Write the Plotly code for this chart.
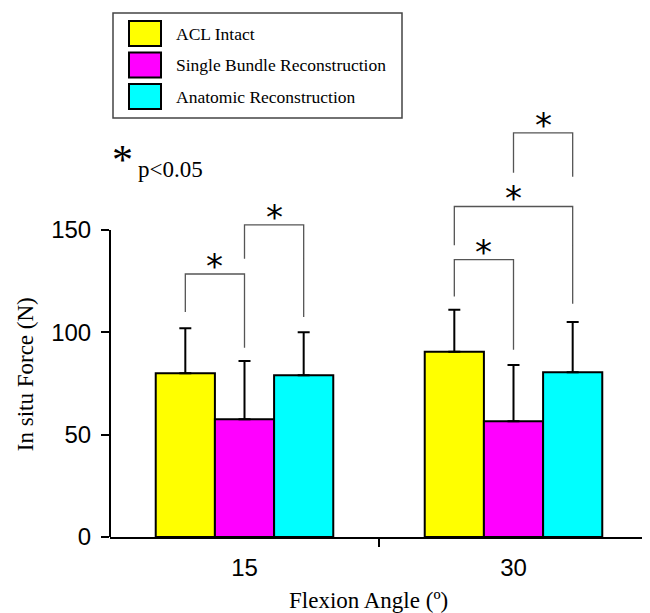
import plotly.graph_objects as go

# ---------------- data ----------------
angles = ["15", "30"]
series = ["ACL Intact", "Single Bundle Reconstruction", "Anatomic Reconstruction"]
means = [[80, 90.5], [57.5, 56.5], [79, 80.5]]
sds = [[22, 20.5], [28.5, 27.5], [21, 24.5]]
y_ticks = [0, 50, 100, 150]
y_title = "In situ Force (N)"
x_title = "Flexion Angle (º)"
sig_note = "p<0.05"
# significance brackets: angle index, series a, series b, left foot, top, right foot (N)
br_angle = [0, 0, 1, 1, 1]
br_a = [0, 1, 0, 0, 1]
br_b = [1, 2, 1, 2, 2]
br_left = [110, 136, 117.5, 142.5, 178]
br_top = [128.5, 152.5, 135.5, 161.5, 197.5]
br_right = [92.5, 107.5, 91.5, 114, 176]

# ---------------- style ----------------
colors = ["#ffff00", "#ff00ff", "#00ffff"]
OFF = 8                      # page body margin
W, H = 650 - OFF, 613 - OFF
L, R, T, B = 110 - OFF, 2, 97 - OFF, 75.5
BARGAP = 0.34
YMAX = 215
bar_w = (1 - BARGAP) / len(series)
xpos = list(range(len(angles)))

def px_x(p):
    return (p - OFF - L) / (W - L - R)

def px_y(p):
    return (H - B - (p - OFF)) / (H - T - B)

fig = go.Figure()
for k, name in enumerate(series):
    fig.add_trace(go.Bar(
        x=xpos, y=means[k], name=name,
        marker=dict(color=colors[k], line=dict(color="black", width=2)),
        error_y=dict(type="data", symmetric=False, array=sds[k],
                     arrayminus=[0] * len(angles), color="black",
                     thickness=2, width=6),
        showlegend=False,
    ))

shapes = []
annotations = []

# y axis line (only up to 150)
shapes.append(dict(type="line", xref="x domain", yref="y", x0=0, x1=0,
                   y0=y_ticks[0], y1=y_ticks[-1],
                   line=dict(color="black", width=2)))

# brackets
def bar_pos(ai, si):
    return xpos[ai] + (si - (len(series) - 1) / 2) * bar_w

for i in range(len(br_angle)):
    xa = bar_pos(br_angle[i], br_a[i])
    xb = bar_pos(br_angle[i], br_b[i])
    path = (f"M {xa},{br_left[i]} L {xa},{br_top[i]} "
            f"L {xb},{br_top[i]} L {xb},{br_right[i]}")
    shapes.append(dict(type="path", xref="x", yref="y", path=path,
                       line=dict(color="#555555", width=1.3)))
    annotations.append(dict(x=(xa + xb) / 2, y=br_top[i] + 4, xref="x", yref="y",
                            text="*", showarrow=False, xanchor="center",
                            yanchor="middle",
                            font=dict(family="DejaVu Sans", size=34, color="black")))

# custom legend
shapes.append(dict(type="rect", xref="paper", yref="paper",
                   x0=px_x(113), x1=px_x(402), y0=px_y(118), y1=px_y(13),
                   line=dict(color="#444444", width=1.5), fillcolor="white"))
row_c = [33.5, 65, 96.5]
for k, name in enumerate(series):
    shapes.append(dict(type="rect", xref="paper", yref="paper",
                       x0=px_x(129), x1=px_x(161),
                       y0=px_y(row_c[k] + 12.5), y1=px_y(row_c[k] - 12.5),
                       line=dict(color="black", width=2), fillcolor=colors[k]))
    annotations.append(dict(x=px_x(174), y=px_y(row_c[k]), xref="paper", yref="paper",
                            text=name, showarrow=False, xanchor="left",
                            yanchor="middle",
                            font=dict(family="Liberation Serif", size=17.5,
                                      color="black")))

# significance note
annotations.append(dict(x=px_x(122.5), y=px_y(160), xref="paper", yref="paper",
                        text="*", showarrow=False, xanchor="center", yanchor="middle",
                        font=dict(family="Liberation Serif", size=42, color="black")))
annotations.append(dict(x=px_x(136), y=px_y(170), xref="paper", yref="paper",
                        text=sig_note, showarrow=False, xanchor="left", yanchor="middle",
                        font=dict(family="Liberation Serif", size=23, color="black")))

# axis titles
annotations.append(dict(x=px_x(25), y=px_y(374.5), xref="paper", yref="paper",
                        text=y_title, showarrow=False, textangle=-90,
                        xanchor="center", yanchor="middle",
                        font=dict(family="Liberation Serif", size=23, color="black")))
annotations.append(dict(x=px_x(368), y=px_y(601.5), xref="paper", yref="paper",
                        text=x_title, showarrow=False,
                        xanchor="center", yanchor="middle",
                        font=dict(family="Liberation Serif", size=23, color="black")))

fig.update_layout(
    width=W, height=H,
    margin=dict(l=L, r=R, t=T, b=B, autoexpand=False),
    paper_bgcolor="white", plot_bgcolor="white",
    barmode="group", bargap=BARGAP, bargroupgap=0,
    shapes=shapes, annotations=annotations,
    showlegend=False,
    xaxis=dict(range=[-0.5, len(angles) - 0.5], showgrid=False, showline=True,
               linecolor="black", linewidth=2, zeroline=False,
               tickmode="array", tickvals=xpos, ticktext=angles, ticks="",
               ticklabelstandoff=8,
               minor=dict(tickmode="array",
                          tickvals=[p + 0.5 for p in xpos],
                          ticks="outside", ticklen=8, tickwidth=2,
                          tickcolor="black", showgrid=False),
               tickfont=dict(family="Liberation Sans", size=24, color="black")),
    yaxis=dict(range=[0, YMAX], showgrid=False, showline=False, zeroline=False,
               tickvals=y_ticks, ticks="outside", ticklen=8, tickwidth=2,
               tickcolor="black", ticklabelstandoff=5,
               tickfont=dict(family="Liberation Sans", size=24, color="black")),
)

fig.write_html("out.html")
